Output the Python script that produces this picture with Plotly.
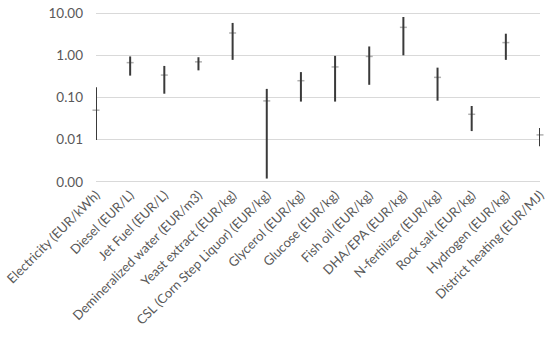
import plotly.graph_objects as go

categories = [
    "Electricity (EUR/kWh)", "Diesel (EUR/L)", "Jet Fuel (EUR/L)",
    "Demineralized water (EUR/m3)", "Yeast extract (EUR/kg)",
    "CSL (Corn Step Liquor) (EUR/kg)", "Glycerol (EUR/kg)", "Glucose (EUR/kg)",
    "Fish oil (EUR/kg)", "DHA/EPA (EUR/kg)", "N-fertilizer (EUR/kg)",
    "Rock salt (EUR/kg)", "Hydrogen (EUR/kg)", "District heating (EUR/MJ)",
]
min_vals = [0.0098, 0.33, 0.123, 0.44, 0.78, 0.0012, 0.08, 0.08, 0.20, 1.0, 0.084, 0.016, 0.78, 0.007]
max_vals = [0.175, 0.94, 0.56, 0.90, 5.85, 0.16, 0.40, 0.97, 1.62, 8.1, 0.51, 0.063, 3.25, 0.019]
mean_vals = [0.05, 0.67, 0.34, 0.70, 3.38, 0.083, 0.25, 0.53, 0.94, 4.6, 0.30, 0.04, 2.0, 0.013]

tick_vals = [0.001, 0.01, 0.1, 1, 10]
tick_text = ["0.00", "0.01", "0.10", "1.00", "10.00"]

FONT = "Lato"
GREY_TXT = "#595959"

line_x, line_y = [], []
for c, lo, hi in zip(categories, min_vals, max_vals):
    line_x += [c, c, None]
    line_y += [lo, hi, None]

fig = go.Figure()
fig.add_trace(go.Scatter(
    x=categories, y=mean_vals, mode="markers",
    marker=dict(symbol="line-ew", size=5, line=dict(color="#b0b0b0", width=1.5)),
    cliponaxis=False, showlegend=False, hoverinfo="skip",
))
fig.add_trace(go.Scatter(
    x=line_x, y=line_y, mode="lines",
    line=dict(color="#3a3a3a", width=2),
    cliponaxis=False, showlegend=False, connectgaps=False,
))

fig.update_layout(
    width=550, height=338,
    margin=dict(l=96, r=10, t=11.4, b=154.4, autoexpand=False),
    plot_bgcolor="white", paper_bgcolor="white",
    font=dict(family=FONT, size=13, color=GREY_TXT),
    xaxis=dict(
        type="category", categoryorder="array", categoryarray=categories,
        range=[0, 13], showgrid=False, showline=False, zeroline=False,
        tickangle=-45, tickfont=dict(family=FONT, size=13, color=GREY_TXT),
        ticks="", automargin=False, ticklabeloverflow="allow",
    ),
    yaxis=dict(
        type="log", range=[-3.05, 1.05], tickvals=tick_vals, ticktext=tick_text,
        showgrid=True, gridcolor="#d9d9d9", gridwidth=1,
        showline=False, zeroline=False, ticks="", automargin=False,
        ticklabelstandoff=12, ticklabeloverflow="allow",
        tickfont=dict(family=FONT, size=13.5, color=GREY_TXT),
    ),
)

fig.write_html("out.html", config={"displayModeBar": False},
               post_script="document.body.style.margin='0';")
